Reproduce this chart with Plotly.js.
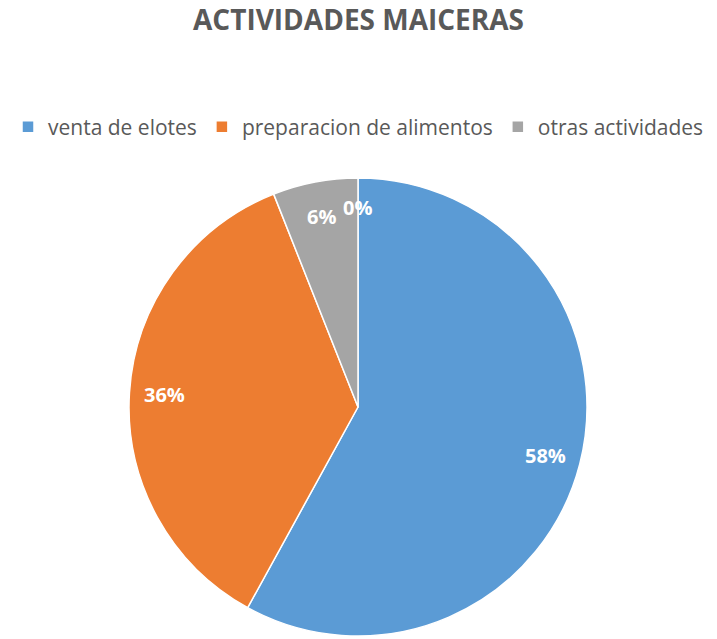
<!DOCTYPE html>
<html>
<head>
<meta charset="utf-8">
<script src="https://cdn.plot.ly/plotly-3.0.1.min.js"></script>
<style>html,body{margin:0;padding:0;background:#fff;}#chart{width:717px;height:639px;}</style>
</head>
<body>
<div id="chart"></div>
<script>
// Data
const categories = ['venta de elotes', 'preparacion de alimentos', 'otras actividades', ''];
const values = [29, 18, 3, 0];
const colors = ['#5B9BD5', '#ED7D31', '#A5A5A5', '#FFC000'];
const chartTitle = 'ACTIVIDADES MAICERAS';

const W = 717, H = 639;
const domX = [0.1799, 0.8187];
const domY = [0.0047, 0.7214];

const total = values.reduce((a, b) => a + b, 0);
const shown = values.map((v, i) => i).filter(i => values[i] > 0);

const trace = {
  type: 'pie',
  labels: shown.map(i => categories[i]),
  values: shown.map(i => values[i]),
  marker: { colors: shown.map(i => colors[i]), line: { color: '#ffffff', width: 1.5 } },
  sort: false,
  direction: 'clockwise',
  rotation: 0,
  textinfo: 'none',
  hoverinfo: 'label+percent',
  domain: { x: domX, y: domY }
};

// data labels placed from the values through the pie geometry
const cx = (domX[0] + domX[1]) / 2 * W;
const cyFromBottom = (domY[0] + domY[1]) / 2 * H;
const R = Math.min((domX[1] - domX[0]) * W, (domY[1] - domY[0]) * H) / 2;
let cum = 0;
const annotations = values.map((v, i) => {
  const mid = (cum + v / 2) / total * 2 * Math.PI;
  cum += v;
  const r = (v > 0 ? 0.845 : 0.87) * R;
  return {
    xref: 'paper', yref: 'paper',
    x: (cx + r * Math.sin(mid)) / W,
    y: (cyFromBottom + r * Math.cos(mid)) / H,
    text: '<b>' + Math.round(v / total * 100) + '%</b>',
    showarrow: false,
    font: { family: 'Open Sans, sans-serif', size: 20, color: '#ffffff' },
    xanchor: 'center', yanchor: 'middle'
  };
});

const layout = {
  width: W, height: H,
  margin: { l: 0, r: 0, t: 0, b: 0 },
  paper_bgcolor: '#ffffff',
  title: {
    text: '<b>' + chartTitle + '</b>',
    font: { family: 'Open Sans, sans-serif', size: 28, color: '#595959' },
    x: 0.5, xanchor: 'center', y: 1 - 20 / H, yanchor: 'middle', yref: 'container'
  },
  showlegend: true,
  legend: {
    orientation: 'h',
    x: 0.5, xanchor: 'center',
    y: 1 - 127 / H, yanchor: 'middle',
    font: { family: 'Open Sans, sans-serif', size: 21, color: '#595959' },
    itemwidth: 30,
    traceorder: 'normal'
  },
  annotations: annotations
};

Plotly.newPlot('chart', [trace], layout, { displayModeBar: false, staticPlot: true });
</script>
</body>
</html>
